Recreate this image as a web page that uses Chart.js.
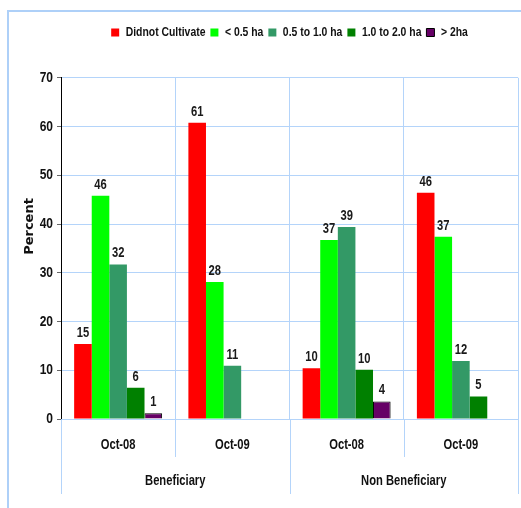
<!DOCTYPE html>
<html>
<head>
<meta charset="utf-8">
<script src="https://cdn.jsdelivr.net/npm/chart.js@4.4.1/dist/chart.umd.min.js"></script>
<style>
  body { margin: 0; background: #fff; }
  #frame { position: absolute; left: 7px; top: 10px; width: 600px; height: 497px;
           border-left: 2px solid #aed0f8; border-top: 2px solid #aed0f8; }
  #box { position: absolute; left: 0; top: 0; width: 521px; height: 508px; }
</style>
</head>
<body>
<div id="frame"></div>
<div id="box"><canvas id="myChart"></canvas></div>
<script>
const canvas = document.getElementById('myChart');
const ctx = canvas.getContext('2d');

const periods = ['Oct-08', 'Oct-09', 'Oct-08', 'Oct-09'];
const groups = ['Beneficiary', 'Non Beneficiary'];

const didnot = [15.4, 60.8, 10.4, 46.4];
const lessHalf = [45.8, 28.1, 36.7, 37.4];
const halfToOne = [31.7, 10.9, 39.4, 11.9];
const oneToTwo = [6.4, null, 10.1, 4.6];
const overTwo = [1.2, null, 3.6, null];

const yTicks = [0, 10, 20, 30, 40, 50, 60, 70];
const yTitle = 'Percent';

const fontFam = "'Liberation Sans', sans-serif";
const gridBlue = '#b4d4fa';

// no narrow font installed: squeeze Liberation Sans text horizontally
const squeeze = 0.8;
const rawFill = ctx.fillText.bind(ctx);
const rawMeasure = ctx.measureText.bind(ctx);
ctx.fillText = function (t, x, y) {
    if (this.font.indexOf('DejaVu') >= 0) return rawFill(t, x, y);
    this.save();
    this.translate(x, y);
    this.scale(squeeze, 1);
    rawFill(t, 0, 0);
    this.restore();
};
ctx.measureText = function (t) {
    const m = rawMeasure(t);
    if (this.font.indexOf('DejaVu') >= 0) return m;
    return {
        width: m.width * squeeze,
        actualBoundingBoxAscent: m.actualBoundingBoxAscent,
        actualBoundingBoxDescent: m.actualBoundingBoxDescent,
        actualBoundingBoxLeft: m.actualBoundingBoxLeft * squeeze,
        actualBoundingBoxRight: m.actualBoundingBoxRight * squeeze
    };
};

// value labels above bars
const barValues = {
    id: 'barValues',
    afterDatasetsDraw(chart) {
        const c = chart.ctx;
        c.save();
        c.font = 'bold 14px ' + fontFam;
        c.fillStyle = '#1a1a1a';
        c.textAlign = 'center';
        c.textBaseline = 'bottom';
        chart.data.datasets.forEach((ds, i) => {
            chart.getDatasetMeta(i).data.forEach((bar, j) => {
                const v = ds.data[j];
                if (v == null) return;
                c.fillText(Math.round(v), bar.x, bar.y - 4);
            });
        });
        c.restore();
    }
};

// separators under the x axis, plus the y title (sits above the axis middle)
const catLines = {
    id: 'catLines',
    afterDraw(chart) {
        const x = chart.scales.x, x2 = chart.scales.x2, y = chart.scales.y;
        const c = chart.ctx;
        const step = (x.right - x.left) / periods.length;
        c.save();
        c.strokeStyle = gridBlue;
        c.lineWidth = 1;
        for (let i = 0; i <= periods.length; i++) {
            const px = Math.round(x.left + i * step) + 0.5;
            const end = (i % 2 === 0) ? x2.bottom : x.bottom;
            c.beginPath();
            c.moveTo(px, x.top);
            c.lineTo(px, end);
            c.stroke();
        }
        c.translate(y.left + 20, y.getPixelForValue(39.5));
        c.rotate(-Math.PI / 2);
        c.font = "bold 13px 'DejaVu Sans', sans-serif";
        c.fillStyle = '#111';
        c.textAlign = 'center';
        c.textBaseline = 'middle';
        c.fillText(yTitle, 0, 0);
        c.restore();
    }
};

const data = {
    labels: periods,
    datasets: [
        { label: 'Didnot Cultivate', data: didnot, backgroundColor: '#ff0000' },
        { label: '< 0.5 ha', data: lessHalf, backgroundColor: '#00ff00' },
        { label: '0.5 to 1.0 ha', data: halfToOne, backgroundColor: '#339966' },
        { label: '1.0 to 2.0 ha', data: oneToTwo, backgroundColor: '#008000' },
        { label: '> 2ha', data: overTwo, backgroundColor: '#660066', borderColor: '#000', borderWidth: 1 }
    ]
};

var myChart = new Chart(ctx, {
    type: 'bar',
    data: data,
    options: {
        responsive: true,
        maintainAspectRatio: false,
        animation: false,
        categoryPercentage: 0.77,
        barPercentage: 1.0,
        layout: { padding: { left: 10, right: 3, top: 21, bottom: 14 } },
        plugins: {
            legend: {
                fullSize: false,
                labels: {
                    boxWidth: 8,
                    boxHeight: 8,
                    padding: 5,
                    color: '#111',
                    font: { family: fontFam, size: 13, weight: 'bold' }
                }
            },
            // empty spacer between legend and plot
            title: {
                display: true,
                text: '',
                weight: 100,
                fullSize: false,
                padding: { top: 0, bottom: 0 },
                font: { size: 24 }
            },
            tooltip: { enabled: false }
        },
        scales: {
            x: {
                grid: { offset: true, color: gridBlue, drawTicks: false },
                border: { color: gridBlue },
                ticks: { padding: 18, color: '#111', font: { family: fontFam, size: 14, weight: 'bold' } },
                afterFit(s) { s.height = 38; }
            },
            x2: {
                type: 'category',
                labels: groups,
                position: 'bottom',
                offset: true,
                grid: { display: false },
                border: { display: false },
                ticks: { padding: 8, color: '#111', font: { family: fontFam, size: 14, weight: 'bold' } },
                afterFit(s) { s.height = 37; }
            },
            y: {
                min: 0,
                max: 70,
                afterBuildTicks(s) { s.ticks = yTicks.map(v => ({ value: v })); },
                grid: { color: gridBlue, tickColor: '#666', tickLength: 4 },
                border: { color: '#000', width: 1 },
                ticks: { padding: 4, color: '#111', font: { family: fontFam, size: 15, weight: 'bold' } },
                afterFit(s) { s.width = 51; }
            }
        }
    },
    plugins: [barValues, catLines]
});
</script>
</body>
</html>
